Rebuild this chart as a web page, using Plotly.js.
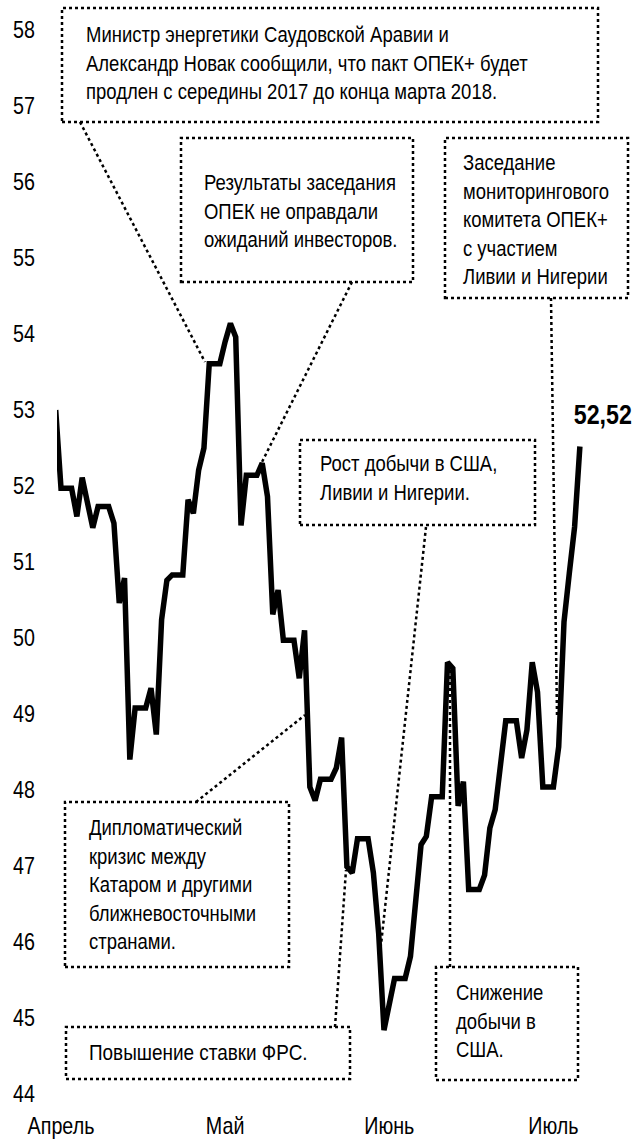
<!DOCTYPE html>
<html><head><meta charset="utf-8">
<script src="https://cdn.plot.ly/plotly-3.0.1.min.js"></script>
<style>body{margin:0;background:#fff}#chart{width:641px;height:1139px}</style>
</head><body><div id="chart"></div><script>
// Daily Brent price (weekends carry Friday's value), 2017
const dates = [
'2017-04-20','2017-04-21','2017-04-22','2017-04-23','2017-04-24','2017-04-25','2017-04-26','2017-04-27','2017-04-28','2017-04-29','2017-04-30',
'2017-05-01','2017-05-02','2017-05-03','2017-05-04','2017-05-05','2017-05-06','2017-05-07','2017-05-08','2017-05-09','2017-05-10','2017-05-11','2017-05-12','2017-05-13','2017-05-14','2017-05-15','2017-05-16','2017-05-17','2017-05-18','2017-05-19','2017-05-20','2017-05-21','2017-05-22','2017-05-23','2017-05-24','2017-05-25','2017-05-26','2017-05-27','2017-05-28','2017-05-29','2017-05-30','2017-05-31',
'2017-06-01','2017-06-02','2017-06-03','2017-06-04','2017-06-05','2017-06-06','2017-06-07','2017-06-08','2017-06-09','2017-06-10','2017-06-11','2017-06-12','2017-06-13','2017-06-14','2017-06-15','2017-06-16','2017-06-17','2017-06-18','2017-06-19','2017-06-20','2017-06-21','2017-06-22','2017-06-23','2017-06-24','2017-06-25','2017-06-26','2017-06-27','2017-06-28','2017-06-29','2017-06-30',
'2017-07-01','2017-07-02','2017-07-03','2017-07-04','2017-07-05','2017-07-06','2017-07-07','2017-07-08','2017-07-09','2017-07-10','2017-07-11','2017-07-12','2017-07-13','2017-07-14','2017-07-15','2017-07-16','2017-07-17','2017-07-18','2017-07-19','2017-07-20','2017-07-21','2017-07-22','2017-07-23','2017-07-24','2017-07-25','2017-07-26','2017-07-27','2017-07-28'
];
const prices = [
53.00,51.97,51.97,51.97,51.60,52.11,51.78,51.45,51.73,51.73,51.73,
51.51,50.46,50.79,48.40,49.08,49.08,49.08,49.34,48.73,50.24,50.76,50.83,50.83,50.83,51.82,51.64,52.21,52.50,53.61,53.61,53.61,53.90,54.14,53.96,51.48,52.14,52.14,52.14,52.30,51.86,50.31,
50.63,49.97,49.97,49.97,49.47,50.10,48.04,47.86,48.14,48.14,48.14,48.29,48.69,46.99,46.91,47.36,47.36,47.36,46.91,46.11,44.84,45.19,45.52,45.52,45.52,45.81,46.55,47.28,47.39,47.91,
47.91,47.91,49.68,49.60,47.79,48.11,46.69,46.69,46.69,46.88,47.50,47.74,48.33,48.91,48.91,48.91,48.42,48.79,49.68,49.29,48.04,48.04,48.04,48.57,50.21,50.85,51.46,52.52
];
const monthTickDates = ['2017-04-21','2017-05-22','2017-06-22','2017-07-23'];
const monthLabels = ['Апрель','Май','Июнь','Июль'];
const yTickValues = [44,45,46,47,48,49,50,51,52,53,54,55,56,57,58];
const lastValueLabel = '52,52';
const noteTexts = [
  'Министр энергетики Саудовской Аравии и<br>Александр Новак сообщили, что пакт ОПЕК+ будет<br>продлен с середины 2017 до конца марта 2018.',
  'Результаты заседания<br>ОПЕК не оправдали<br>ожиданий инвесторов.',
  'Заседание<br>мониторингового<br>комитета ОПЕК+<br>с участием<br>Ливии и Нигерии',
  'Рост добычи в США,<br>Ливии и Нигерии.',
  'Дипломатический<br>кризис между<br>Катаром и другими<br>ближневосточными<br>странами.',
  'Повышение ставки ФРС.',
  'Снижение<br>добычи в<br>США.'
];

const L=57, R=600, T=0, B=1105;
const px = x => (x-L)/(R-L);
const py = y => (B-y)/(B-T);
const FONT = '"Liberation Sans", Arial, sans-serif';

// layout geometry (pixels)
const boxes = [
  [62,8,598,122],
  [181,138,413,282],
  [445,138,628,298],
  [300,440,535,525],
  [65,802,289,967],
  [66,1027,350,1079],
  [436,967,578,1080]
];
const textPos = [[84,20],[202,168],[461,148],[318,449],[87,813],[87,1038],[454,978]];
const connectors = [
  [80,122,205,362],
  [352,282,262,462],
  [551,298,557,715],
  [426,527,381,945],
  [196,802,305,715],
  [335,1027,346,870],
  [450,967,450,668]
];

const shapes = [];
boxes.forEach(b => shapes.push({type:'rect',xref:'paper',yref:'paper',x0:px(b[0]),x1:px(b[2]),y0:py(b[3]),y1:py(b[1]),
  line:{color:'#000',width:2.5,dash:'dot'},fillcolor:'rgba(0,0,0,0)',layer:'above'}));
connectors.forEach(c => shapes.push({type:'line',xref:'paper',yref:'paper',x0:px(c[0]),y0:py(c[1]),x1:px(c[2]),y1:py(c[3]),
  line:{color:'#000',width:2.5,dash:'dot'},layer:'above'}));

const annotations = noteTexts.map((t,i)=>({xref:'paper',yref:'paper',x:px(textPos[i][0]),y:py(textPos[i][1]),
  xanchor:'left',yanchor:'top',align:'left',text:t,showarrow:false,font:{family:FONT,size:22,color:'#000'}}));
annotations.push({xref:'x',yref:'y',x:dates[dates.length-1],y:prices[prices.length-1],text:'<b>'+lastValueLabel+'</b>',
  showarrow:false,xanchor:'center',yanchor:'bottom',xshift:23,yshift:14,font:{family:FONT,size:27,color:'#000'}});

const trace = {x:dates,y:prices,type:'scatter',mode:'lines',line:{color:'#000',width:5.5},hoverinfo:'skip'};

const layout = {
  width:641,height:1139,margin:{l:L,r:641-R,t:T,b:1139-B},
  paper_bgcolor:'#fff',plot_bgcolor:'#fff',showlegend:false,
  font:{family:FONT,size:22,color:'#000'},
  xaxis:{type:'date',range:['2017-04-20 05:53','2017-07-31 19:12'],tickmode:'array',tickvals:monthTickDates,ticktext:monthLabels,
    showgrid:false,zeroline:false,showline:false,ticks:'',tickfont:{family:FONT,size:24,color:'#000'},ticklabelstandoff:4},
  yaxis:{range:[43.855,58.395],tickmode:'array',tickvals:yTickValues,ticktext:yTickValues.map(String),
    showgrid:false,zeroline:false,showline:false,ticks:'',tickfont:{family:FONT,size:24,color:'#000'},ticklabelstandoff:21},
  shapes:shapes,annotations:annotations
};
// the reference uses a condensed face; squeeze glyphs horizontally (text stays real text)
function condense(el, f){
  const len = el.getComputedTextLength();
  if (len > 0){ el.setAttribute('textLength', (len*f).toFixed(2)); el.setAttribute('lengthAdjust','spacingAndGlyphs'); }
}
Plotly.newPlot('chart',[trace],layout,{displayModeBar:false,staticPlot:true}).then(gd => {
  gd.querySelectorAll('.annotation-text').forEach(t => {
    const lines = t.querySelectorAll('tspan.line');
    if (lines.length) lines.forEach(l => condense(l, 0.84)); else condense(t, 0.86);
  });
  gd.querySelectorAll('.xtick text, .ytick text').forEach(t => condense(t, 0.82));
});
</script></body></html>
